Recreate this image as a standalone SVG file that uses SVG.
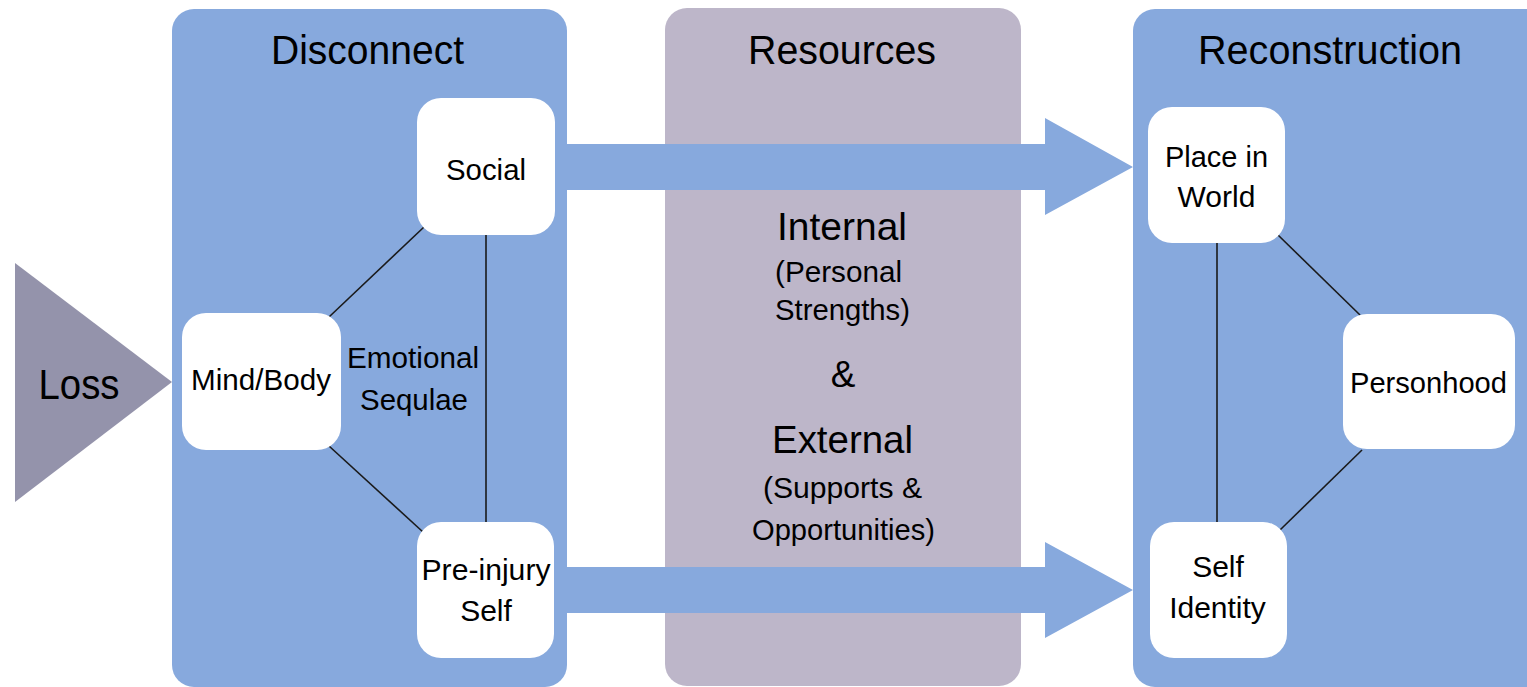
<svg xmlns="http://www.w3.org/2000/svg" width="1527" height="687" viewBox="0 0 1527 687">
  <style>
    .panel-blue { fill: #87a9dd; }
    .panel-grey { fill: #bdb6c9; }
    .node { fill: #ffffff; }
    .link { stroke: #1a1a1a; stroke-width: 1.6; fill: none; }
    .flow { fill: #87a9dd; }
    text { font-family: "Liberation Sans", Arial, sans-serif; fill: #000000; text-anchor: middle; }
    .title { font-size: 40px; }
    .label { font-size: 30px; }
    .big { font-size: 39px; }
  </style>
  <rect width="1527" height="687" fill="#ffffff"/>

  <!-- stage panels -->
  <g id="panel-disconnect">
    <rect class="panel-blue" x="172" y="9" width="395" height="678" rx="22"/>
    <text class="title" x="367.5" y="64" textLength="193" lengthAdjust="spacingAndGlyphs">Disconnect</text>
  </g>
  <g id="panel-resources">
    <rect class="panel-grey" x="665" y="8" width="356" height="678" rx="22"/>
    <text class="title" x="842" y="64" textLength="188" lengthAdjust="spacingAndGlyphs">Resources</text>
    <text class="big" x="842" y="240" textLength="130" lengthAdjust="spacingAndGlyphs">Internal</text>
    <text class="label" x="838.5" y="282" textLength="127" lengthAdjust="spacingAndGlyphs">(Personal</text>
    <text class="label" x="842.5" y="320" textLength="135" lengthAdjust="spacingAndGlyphs">Strengths)</text>
    <text x="843" y="387" style="font-size:37px">&amp;</text>
    <text class="big" x="842.5" y="453" textLength="141" lengthAdjust="spacingAndGlyphs">External</text>
    <text class="label" x="842.5" y="498" textLength="159" lengthAdjust="spacingAndGlyphs">(Supports &amp;</text>
    <text class="label" x="843.5" y="540" textLength="183" lengthAdjust="spacingAndGlyphs">Opportunities)</text>
  </g>
  <g id="panel-reconstruction">
    <rect class="panel-blue" x="1133" y="9" width="420" height="678" rx="22"/>
    <text class="title" x="1330" y="64" textLength="264" lengthAdjust="spacingAndGlyphs">Reconstruction</text>
  </g>

  <!-- entry wedge -->
  <g id="loss">
    <polygon points="15,263 172,382 15,502" fill="#9493ab"/>
    <text x="79" y="399" style="font-size:43px" textLength="81" lengthAdjust="spacingAndGlyphs">Loss</text>
  </g>

  <!-- connectors -->
  <g id="connectors">
    <polygon class="flow" points="560,144 1045,144 1045,118 1133,167 1045,215 1045,190 560,190"/>
    <polygon class="flow" points="560,567 1045,567 1045,542 1133,590 1045,638 1045,613 560,613"/>
    <line class="link" x1="424" y1="227" x2="329" y2="317"/>
    <line class="link" x1="486" y1="235" x2="486" y2="522"/>
    <line class="link" x1="329" y1="446" x2="423" y2="532"/>
    <line class="link" x1="1217" y1="243" x2="1217" y2="522"/>
    <line class="link" x1="1278" y1="235" x2="1360" y2="315"/>
    <line class="link" x1="1362" y1="450" x2="1280" y2="530"/>
  </g>

  <g id="emotional-sequlae">
    <text class="label" x="413" y="368" textLength="132" lengthAdjust="spacingAndGlyphs">Emotional</text>
    <text class="label" x="414" y="410" textLength="108" lengthAdjust="spacingAndGlyphs">Sequlae</text>
  </g>

  <!-- disconnect nodes -->
  <g id="node-social">
    <rect class="node" x="417" y="98" width="138" height="137" rx="24"/>
    <text class="label" x="486" y="180" textLength="80" lengthAdjust="spacingAndGlyphs">Social</text>
  </g>
  <g id="node-mind-body">
    <rect class="node" x="182" y="313" width="159" height="137" rx="24"/>
    <text class="label" x="261" y="390" textLength="140" lengthAdjust="spacingAndGlyphs">Mind/Body</text>
  </g>
  <g id="node-pre-injury-self">
    <rect class="node" x="417" y="522" width="137" height="136" rx="24"/>
    <text class="label" x="486" y="580" textLength="129" lengthAdjust="spacingAndGlyphs">Pre-injury</text>
    <text class="label" x="486" y="621">Self</text>
  </g>

  <!-- reconstruction nodes -->
  <g id="node-place-in-world">
    <rect class="node" x="1148" y="107" width="137" height="136" rx="24"/>
    <text class="label" x="1216.5" y="167" textLength="103" lengthAdjust="spacingAndGlyphs">Place in</text>
    <text class="label" x="1216.5" y="207">World</text>
  </g>
  <g id="node-personhood">
    <rect class="node" x="1343" y="314" width="172" height="135" rx="24"/>
    <text class="label" x="1428.5" y="393" textLength="157" lengthAdjust="spacingAndGlyphs">Personhood</text>
  </g>
  <g id="node-self-identity">
    <rect class="node" x="1150" y="522" width="137" height="136" rx="24"/>
    <text class="label" x="1218" y="577">Self</text>
    <text class="label" x="1217.5" y="618">Identity</text>
  </g>
</svg>
